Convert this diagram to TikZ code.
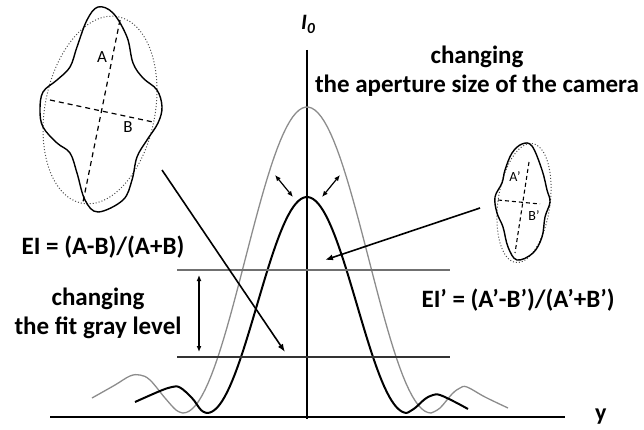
\documentclass[tikz,border=0pt]{standalone}
\usepackage{fontspec}
\setmainfont{Carlito}
\usetikzlibrary{arrows.meta}
\definecolor{curvegray}{HTML}{8C8C8C}
\definecolor{linegray}{HTML}{707070}
\definecolor{linedark}{HTML}{333333}
\begin{document}
\begin{tikzpicture}[x=1pt,y=-1pt,
  lbl/.style={font=\bfseries\fontsize{25}{29}\selectfont, align=center, inner sep=0pt},
  small/.style={font=\fontsize{17}{17}\selectfont, inner sep=0pt},
  tiny/.style={font=\fontsize{14}{14}\selectfont, inner sep=0pt},
  arr/.style={line width=1.6pt, -{Latex[length=8pt,width=6pt]}},
  dbl/.style={line width=1.2pt, {Latex[length=6pt,width=5pt]}-{Latex[length=6pt,width=5pt]}},
  outline/.style={line width=1.4pt, black},
  dotellipse/.style={dotted, line width=1pt, black!70},
  dashaxis/.style={dash pattern=on 5pt off 4pt, line width=1.2pt},
  axisline/.style={line width=2.6pt},
  blackcurve/.style={line width=2pt, black},
  graycurve/.style={line width=1.3pt, curvegray},
]
\useasboundingbox (0,0) rectangle (644,430);

% axes
\coordinate (ytop) at (307,50);
\coordinate (ybot) at (307,419);
\coordinate (xl) at (50,417);
\coordinate (xr) at (565,417);
\draw[axisline] (ytop) -- (ybot);
\draw[axisline] (xl) -- (xr);
\node[anchor=base west, inner sep=0pt, font=\bfseries\itshape\fontsize{22}{22}\selectfont] (I0) at (301,30) {I\textsubscript{0}};
\node[anchor=base west, inner sep=0pt, font=\bfseries\fontsize{24}{24}\selectfont] (ylab) at (595,420) {y};

% gray curve
\draw[graycurve] plot[smooth, tension=0.6] coordinates {(92,398) (115,385) (130,376) (140,375) (150,380) (165,398) (176,410) (183,413)};
\draw[graycurve] plot[domain=-124:124, samples=80] ({307+\x},{413-306*cos(90*\x/124)^2});
\draw[graycurve] plot[smooth, tension=0.6] coordinates {(431,413) (440,408) (452,394) (460,388) (467,387) (485,397) (508,408)};

% black curve
\draw[blackcurve] plot[smooth, tension=0.6] coordinates {(135,402) (160,391) (172,387) (180,387.5) (192,398) (201,410) (207,413)};
\draw[blackcurve] plot[domain=-100:100, samples=80] ({307+\x},{413-216*cos(0.9*\x)^2});
\draw[blackcurve] plot[smooth, tension=0.6] coordinates {(407,413) (415,408) (425,399) (433,395) (440,395) (455,402) (468,409)};

% fit levels
\coordinate (u1) at (177,270); \coordinate (u2) at (450,270);
\coordinate (l1) at (177,357); \coordinate (l2) at (450,357);
\draw[line width=1.6pt, linegray] (u1) -- (u2);
\draw[line width=1.4pt, linedark] (l1) -- (l2);
\coordinate (g1) at (199,275); \coordinate (g2) at (199,352);
\draw[dbl] (g1) -- (g2);

% peak arrows
\coordinate (pa1) at (275,175); \coordinate (pa2) at (293,197);
\coordinate (pb1) at (340,175); \coordinate (pb2) at (322,197);
\draw[dbl] (pa1) -- (pa2);
\draw[dbl] (pb1) -- (pb2);

% left shape
\draw[dotellipse, rotate around={-11:(100,110)}] (100,110) ellipse [x radius=55, y radius=95];
\draw[outline] plot[smooth cycle, tension=0.6] coordinates {
 (98,7) (113,13) (127,37) (133,63) (143,78) (157,90) (162,107) (158,123) (147,140) (137,157)
 (132,180) (123,200) (98,212) (85,200) (77,173) (70,153) (57,143) (43,127) (40,110) (43,92)
 (57,80) (70,67) (77,47) (87,20)};
\coordinate (A1) at (120,20); \coordinate (A2) at (83,202);
\coordinate (B1) at (50,100); \coordinate (B2) at (153,122);
\draw[dashaxis] (A1) -- (A2);
\draw[dashaxis] (B1) -- (B2);
\node[small] (Alab) at (102,57) {A};
\node[small] (Blab) at (128,127) {B};

% right shape
\draw[dotellipse, rotate around={-8:(524,203)}] (524,203) ellipse [x radius=26, y radius=60];
\draw[outline] plot[smooth cycle, tension=0.6] coordinates {
 (522,144) (532,146) (542,170) (547,190) (550,202) (545,217) (542,237) (533,253) (517,260)
 (508,247) (503,227) (497,213) (495,197) (502,183) (505,170) (512,153)};
\coordinate (C1) at (529,162); \coordinate (C2) at (515,253);
\coordinate (D1) at (498,200); \coordinate (D2) at (540,204);
\draw[dash pattern=on 4pt off 3pt, line width=1.1pt] (C1) -- (C2);
\draw[dash pattern=on 4pt off 3pt, line width=1.1pt] (D1) -- (D2);
\node[tiny] (Aplab) at (515,177) {A’};
\node[tiny] (Bplab) at (534,216) {B’};

% pointer arrows
\coordinate (s1) at (162,170); \coordinate (e1) at (285,352);
\draw[arr] (s1) -- (e1);
\coordinate (s2) at (480,208); \coordinate (e2) at (325,260);
\draw[arr] (s2) -- (e2);

% texts
\node[lbl] (aper) at (477,71) {changing\\the aperture size of the camera};
\node[lbl, anchor=base] (EI) at (103,254) {EI = (A-B)/(A+B)};
\node[lbl] (fit) at (98,313) {changing\\the fit gray level};
\node[lbl, anchor=base] (EIp) at (518,307) {EI’ = (A’-B’)/(A’+B’)};
\end{tikzpicture}
\end{document}
